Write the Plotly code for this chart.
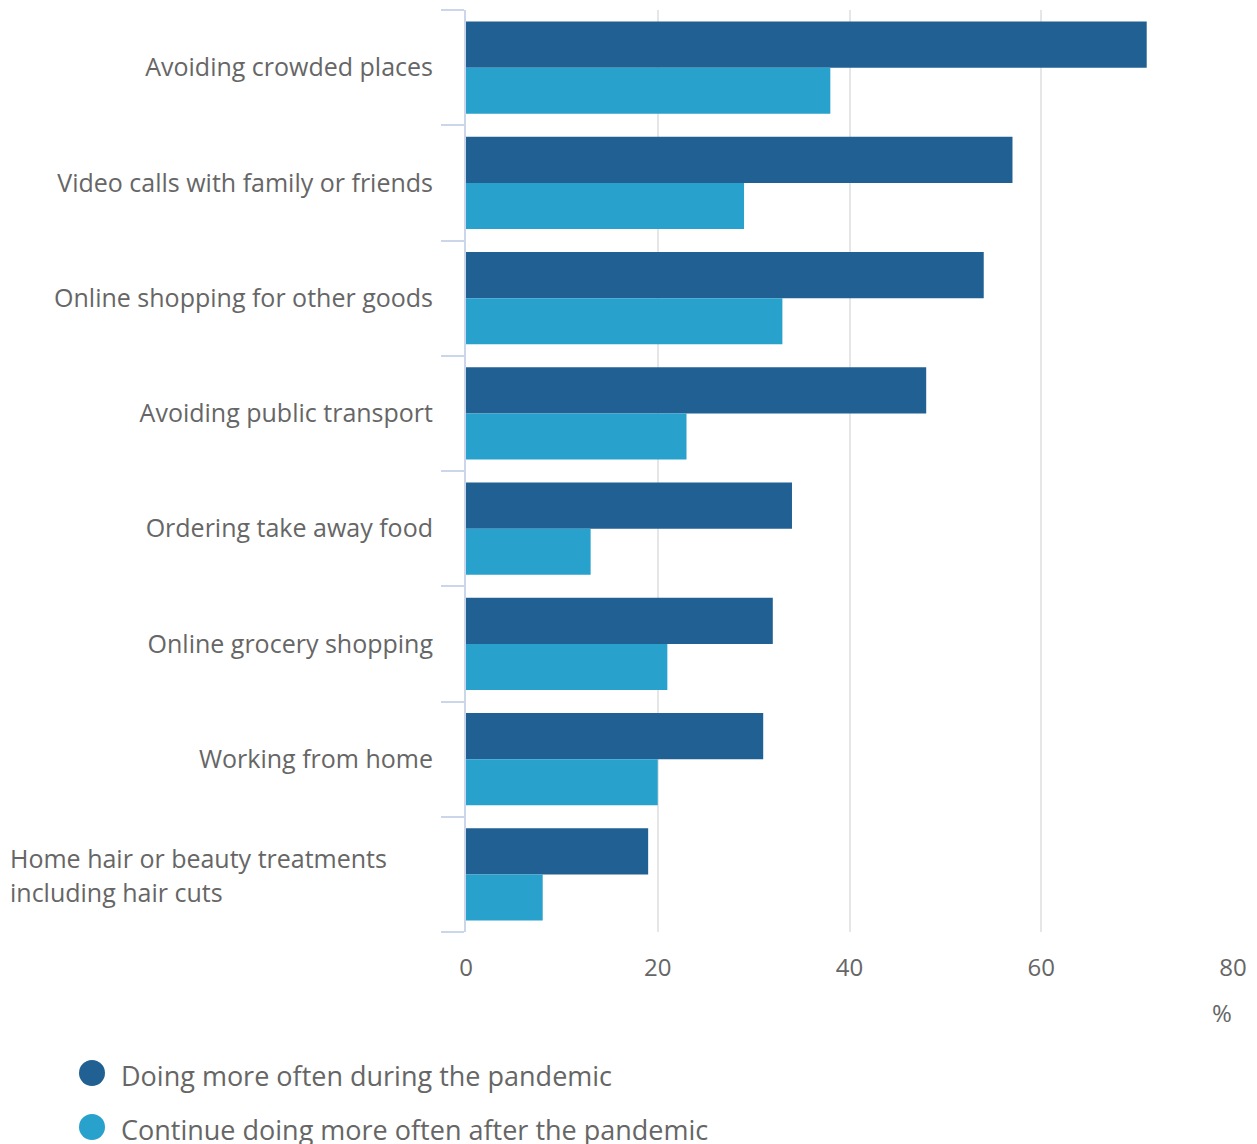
import plotly.graph_objects as go

categories = [
    "Avoiding crowded places",
    "Video calls with family or friends",
    "Online shopping for other goods",
    "Avoiding public transport",
    "Ordering take away food",
    "Online grocery shopping",
    "Working from home",
    "Home hair or beauty treatments including hair cuts",
]
tick_labels = [
    "Avoiding crowded places",
    "Video calls with family or friends",
    "Online shopping for other goods",
    "Avoiding public transport",
    "Ordering take away food",
    "Online grocery shopping",
    "Working from home",
    "",
]
wrapped_label_lines = ["Home hair or beauty treatments", "including hair cuts"]
during = [71, 57, 54, 48, 34, 32, 31, 19]
after = [38, 29, 33, 23, 13, 21, 20, 8]
series_names = ["Doing more often during the pandemic", "Continue doing more often after the pandemic"]
colors = ["#216093", "#28a1cc"]
x_ticks = [0, 20, 40, 60, 80]

W, H = 1257, 1144
ml, mr, mt, mb = 466, 24, 10, 212
pw, ph = W - ml - mr, H - mt - mb

def px_x(p):
    return (p - ml) / pw

def px_y(p):
    return (H - mb - p) / ph

font = dict(family="Open Sans", size=24, color="#666666")
yfont = dict(family="Open Sans", size=25, color="#666666")
legfont = dict(family="Open Sans", size=27, color="#666666")

fig = go.Figure()
for vals, name, col in zip([during, after], series_names, colors):
    fig.add_trace(go.Bar(
        y=categories, x=vals, orientation="h", name=name,
        marker=dict(color=col, line=dict(width=0)), showlegend=False,
    ))

fig.update_layout(
    width=W, height=H,
    margin=dict(l=ml, r=mr, t=mt, b=mb),
    paper_bgcolor="white", plot_bgcolor="white",
    barmode="group", bargap=0.2, bargroupgap=0,
    font=font,
    xaxis=dict(
        range=[0, 80], tickvals=x_ticks, showgrid=True, gridcolor="#e6e6e6", gridwidth=2,
        zeroline=False, showline=False, ticks="outside", ticklen=14, tickcolor="rgba(0,0,0,0)",
        tickfont=font,
    ),
    yaxis=dict(
        categoryorder="array", categoryarray=categories, autorange="reversed",
        tickvals=categories, ticktext=tick_labels,
        showline=True, linecolor="#ccd6eb", linewidth=2,
        ticks="outside", tickson="boundaries", ticklen=23, tickcolor="#ccd6eb", tickwidth=2,
        ticklabelstandoff=26,
        showgrid=False, tickfont=yfont,
    ),
)

annotations = []
for i, line in enumerate(wrapped_label_lines):
    annotations.append(dict(text=line, xref="paper", yref="y", x=px_x(8), y=categories[-1],
                            yshift=(17 - 34 * i) - 1, xanchor="left", yanchor="middle",
                            showarrow=False, font=yfont))
annotations.append(dict(text="%", xref="paper", yref="paper", x=px_x(1222), y=px_y(1012),
                        xanchor="center", yanchor="middle", showarrow=False, font=font))
shapes = []
legend_y = [1073, 1127]
for i, (name, col) in enumerate(zip(series_names, colors)):
    cy = legend_y[i]
    shapes.append(dict(type="circle", xref="paper", yref="paper",
                       x0=px_x(79), x1=px_x(105), y0=px_y(cy + 13), y1=px_y(cy - 13),
                       fillcolor=col, line=dict(width=0)))
    annotations.append(dict(text=name, xref="paper", yref="paper", x=px_x(119), y=px_y(cy + 2),
                            xanchor="left", yanchor="middle", showarrow=False, font=legfont))
fig.update_layout(annotations=annotations, shapes=shapes)

fig.write_html("out.html")
